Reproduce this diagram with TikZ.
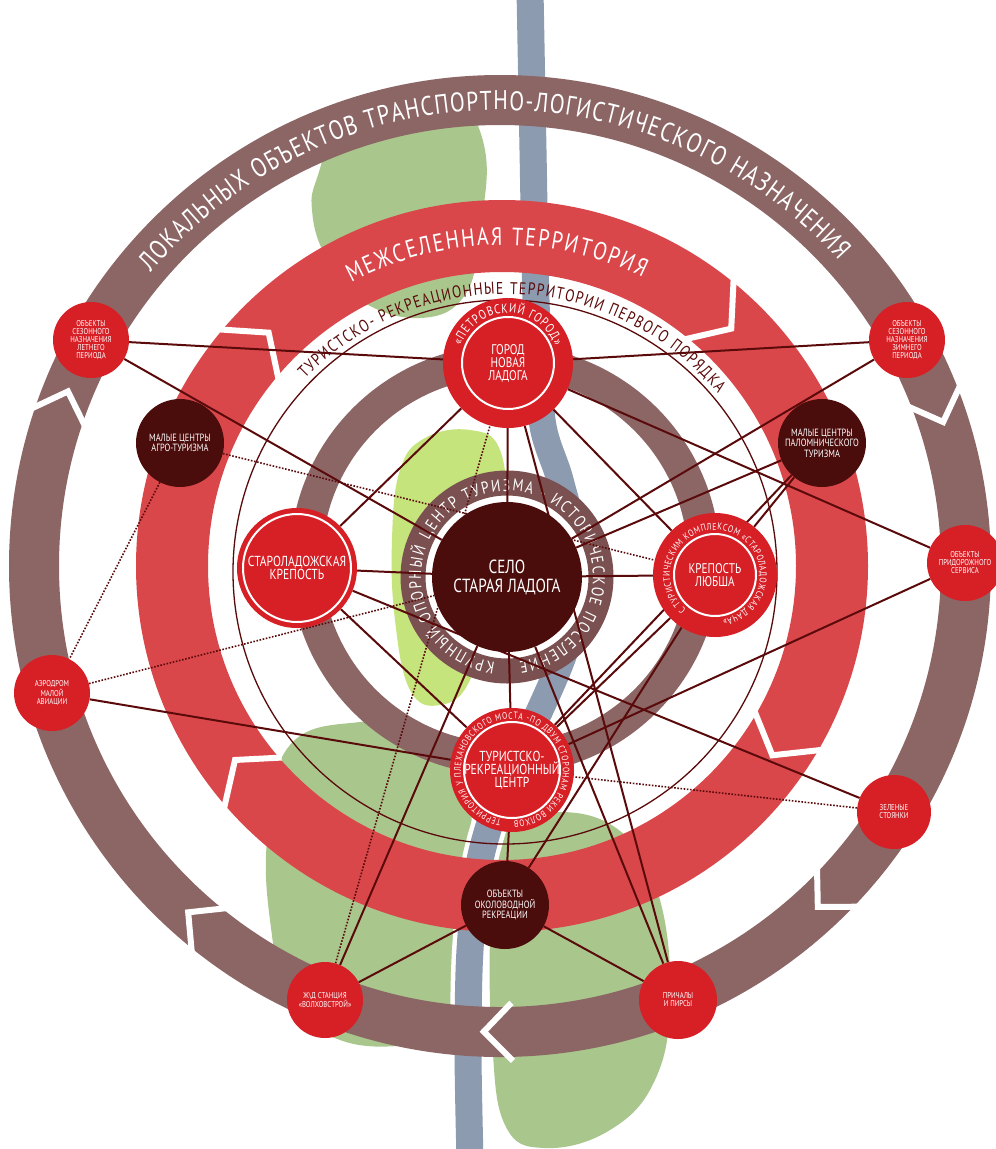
\documentclass[tikz,border=0pt]{standalone}
\usepackage{fontspec}
\setmainfont{PT Sans}[FakeStretch=0.8]
\usetikzlibrary{decorations.text,calc}
\pgfdeclarelayer{back}
\pgfdeclarelayer{lines}
\pgfsetlayers{back,lines,main}
\definecolor{ringbrown}{HTML}{8C6565}
\definecolor{ringred}{HTML}{DA474B}
\definecolor{nodered}{HTML}{D71F26}
\definecolor{darkn}{HTML}{4B0C0C}
\definecolor{lineclr}{HTML}{5A0A0A}
\definecolor{greenb}{HTML}{A9C68D}
\definecolor{limeb}{HTML}{C6E47C}
\definecolor{riverc}{HTML}{8C9BB0}
\definecolor{cring}{HTML}{7A5050}
\newcommand{\myfs}[2]{\fontsize{#1}{#2}\selectfont}
\begin{document}
\begin{tikzpicture}[x=1pt,y=1pt,
  conn/.style={draw=lineclr, line width=2pt},
  dconn/.style={draw=lineclr, line width=1.6pt, dash pattern=on 1.6pt off 1.6pt},
  smallred/.style={circle, fill=nodered, text=white, minimum size=76pt, inner sep=0pt, align=center, font=\myfs{8.5}{8}},
  darknode/.style={circle, fill=darkn, text=white, minimum size=88pt, inner sep=0pt, align=center, font=\myfs{10.5}{10.5}},
  bignode/.style={circle, fill=nodered, text=white, inner sep=0pt, align=center, font=\myfs{14}{13}},
  ringtext/.style={decorate, decoration={text along path, text align=fit to path, text color=white, text={#1}}},
]
\useasboundingbox (0,0) rectangle (996,-1149);
% ---------- nodes ----------
\node[darknode, minimum size=150pt, font=\myfs{19}{19}] (selo) at (507,-577) {СЕЛО\\СТАРАЯ ЛАДОГА};
\node[bignode, minimum size=130pt] (nl) at (508,-363) {ГОРОД\\НОВАЯ\\ЛАДОГА};
\node[bignode, minimum size=120pt, font=\myfs{14.5}{13}] (sk) at (297,-568) {СТАРОЛАДОЖСКАЯ\\КРЕПОСТЬ};
\node[bignode, minimum size=124pt] (lub) at (715,-575) {КРЕПОСТЬ\\ЛЮБША};
\node[bignode, minimum size=124pt, font=\myfs{14.5}{13}] (tc) at (512,-770) {ТУРИСТСКО-\\РЕКРЕАЦИОННЫЙ\\ЦЕНТР};
\node[smallred] (leto) at (91,-340) {ОБЪЕКТЫ\\СЕЗОННОГО\\НАЗНАЧЕНИЯ\\ЛЕТНЕГО\\ПЕРИОДА};
\node[smallred] (zima) at (907,-340) {ОБЪЕКТЫ\\СЕЗОННОГО\\НАЗНАЧЕНИЯ\\ЗИМНЕГО\\ПЕРИОДА};
\node[darknode] (agro) at (180,-443) {МАЛЫЕ ЦЕНТРЫ\\АГРО-ТУРИЗМА};
\node[darknode] (pal) at (822,-443) {МАЛЫЕ ЦЕНТРЫ\\ПАЛОМНИЧЕСКОГО\\ТУРИЗМА};
\node[smallred] (prid) at (965,-563) {ОБЪЕКТЫ\\ПРИДОРОЖНОГО\\СЕРВИСА};
\node[smallred] (aero) at (52,-693) {АЭРОДРОМ\\МАЛОЙ\\АВИАЦИИ};
\node[smallred, minimum size=74pt] (zel) at (894,-812) {ЗЕЛЕНЫЕ\\СТОЯНКИ};
\node[darknode] (vod) at (505,-905) {ОБЪЕКТЫ\\ОКОЛОВОДНОЙ\\РЕКРЕАЦИИ};
\node[smallred] (zd) at (325,-1000) {Ж\textbackslash Д СТАНЦИЯ\\«ВОЛХОВСТРОЙ»};
\node[smallred, minimum size=78pt] (pri) at (678,-1000) {ПРИЧАЛЫ\\И ПИРСЫ};
% white inner rings and ring texts of big nodes
\draw[white, line width=2pt] (nl) circle[radius=46];
\draw[white, line width=2pt] (sk) circle[radius=54];
\draw[white, line width=2pt] (lub) circle[radius=41];
\draw[white, line width=2pt] (tc) circle[radius=48];
\path[ringtext={|\myfs{13}{13}|«ПЕТРОВСКИЙ ГОРОД»}] ($(nl)+(160:50)$) arc[start angle=160, end angle=20, radius=50];
\path[ringtext={|\myfs{9.6}{9.6}|С ТУРИСТИЧЕСКИМ КОМПЛЕКСОМ «СТАРОЛАДОЖСКАЯ ДАЧА»}] ($(lub)+(230:45)$) arc[start angle=230, end angle=-80, radius=45];
\path[ringtext={|\myfs{9.4}{9.4}|ТЕРРИТОРИЯ У ПЛЕХАНОВСКОГО МОСТА -ПО ДВУМ СТОРОНАМ РЕКИ ВОЛХОВ}] ($(tc)+(258:51)$) arc[start angle=258, end angle=-88, radius=51];
% ---------- background ----------
\begin{pgfonlayer}{back}
\fill[white] (0,0) rectangle (996,-1149);
\fill[greenb] plot[smooth cycle, tension=0.7] coordinates {(318,-175) (345,-110) (400,-88) (455,-98) (485,-150) (480,-230) (465,-295) (420,-318) (360,-300) (325,-255) (312,-210)};
\fill[greenb] plot[smooth cycle, tension=0.7] coordinates {(290,-745) (360,-722) (430,-728) (465,-770) (472,-860) (468,-960) (455,-1030) (410,-1045) (340,-1040) (290,-1000) (270,-920) (268,-830)};
\fill[greenb] plot[smooth cycle, tension=0.7] coordinates {(495,-835) (560,-812) (625,-835) (660,-900) (670,-1000) (655,-1080) (610,-1130) (545,-1148) (505,-1125) (492,-1040) (490,-930)};
\fill[limeb] plot[smooth cycle, tension=0.7] coordinates {(400,-470) (425,-438) (470,-430) (500,-450) (505,-520) (490,-600) (470,-680) (440,-705) (410,-690) (395,-620) (392,-540)};
\draw[white, line width=36pt] plot[smooth] coordinates {(530,10) (533,-150) (536,-300) (542,-420) (560,-480) (578,-560) (568,-640) (540,-710) (505,-780) (480,-860) (470,-950) (468,-1050) (470,-1160)};
\draw[riverc, line width=27pt] plot[smooth] coordinates {(530,10) (533,-150) (536,-300) (542,-420) (560,-480) (578,-560) (568,-640) (540,-710) (505,-780) (480,-860) (470,-950) (468,-1050) (470,-1160)};
% outer ring
\draw[ringbrown, line width=50pt] (500,-566) circle[radius=466];
\begin{scope}[shift={(500,-566)}]
\foreach \a in {158,18,-47,-92,-132}
  \draw[white, line width=6pt, line join=miter, miter limit=10] ({\a+3.5}:495) -- (\a:466) -- ({\a+3.5}:437);
\path[ringtext={|\myfs{27}{27}|ЛОКАЛЬНЫХ ОБЪЕКТОВ ТРАНСПОРТНО-ЛОГИСТИЧЕСКОГО НАЗНАЧЕНИЯ}] (140:456) arc[start angle=140, end angle=42, radius=456];
\end{scope}
% red ring
\draw[ringred, line width=72pt] (502,-566) circle[radius=330];
\begin{scope}[shift={(502,-566)}]
\foreach \a in {135,46,-35,-144}
  \draw[white, line width=6pt, line join=miter, miter limit=10] ({\a+5}:368) -- (\a:330) -- ({\a+5}:292);
\path[ringtext={|\myfs{25}{25}|МЕЖСЕЛЕННАЯ ТЕРРИТОРИЯ}] (118:321) arc[start angle=118, end angle=64, radius=321];
\end{scope}
% middle brown ring
\draw[ringbrown, line width=32pt] (505,-560) circle[radius=199];
% thin circle and its text
\draw[lineclr, line width=1.3pt] (505,-572) circle[radius=272];
\begin{scope}[shift={(505,-572)}]
\path[decorate, decoration={text along path, text align=fit to path, text color=lineclr, text={|\myfs{17}{17}|ТУРИСТСКО- РЕКРЕАЦИОННЫЕ ТЕРРИТОРИИ ПЕРВОГО ПОРЯДКА}}] (136:278) arc[start angle=136, end angle=40, radius=278];
\end{scope}
% central ring
\fill[white] (selo) circle[radius=82];
\draw[cring, line width=25pt] (selo) circle[radius=94];
\path[ringtext={|\myfs{17}{17}|КРУПНЫЙ ОПОРНЫЙ ЦЕНТР ТУРИЗМА - ИСТОРИЧЕСКОЕ ПОСЕЛЕНИЕ}] ($(selo)+(262:86)$) arc[start angle=262, end angle=-82, radius=86];
\end{pgfonlayer}
% ---------- connectors ----------
\begin{pgfonlayer}{lines}
\draw[conn] (leto) -- (nl);
\draw[conn] (leto) -- (selo);
\draw[conn] (zima) -- (nl);
\draw[conn] (zima) -- (selo);
\draw[dconn] (agro) -- (lub);
\draw[dconn] (agro) -- (aero);
\draw[conn] (pal) -- (lub);
\draw[conn] (pal) -- (tc);
\draw[conn] (pal) -- (selo);
\draw[conn] (prid) -- (nl);
\draw[conn] (prid) -- (tc);
\draw[dconn] (aero) -- (selo);
\draw[conn] (aero) -- (tc);
\draw[dconn] (zel) -- (tc);
\draw[conn] (zel) -- (sk);
\draw[conn] (vod) -- (tc);
\draw[conn] (vod) -- (lub);
\draw[conn] (vod) -- (zd);
\draw[conn] (vod) -- (pri);
\draw[conn] (zd) -- (selo);
\draw[dconn] (zd) -- (nl);
\draw[conn] (pri) -- (selo);
\draw[conn] (pri) -- (nl);
\draw[conn] (nl) -- (selo);
\draw[conn] (sk) -- (selo);
\draw[conn] (lub) -- (selo);
\draw[conn] (tc) -- (selo);
\draw[conn] (nl) -- (sk);
\draw[conn] (nl) -- (lub);
\draw[conn] (sk) -- (tc);
\draw[conn] (lub) -- (tc);
\end{pgfonlayer}
\end{tikzpicture}
\end{document}
